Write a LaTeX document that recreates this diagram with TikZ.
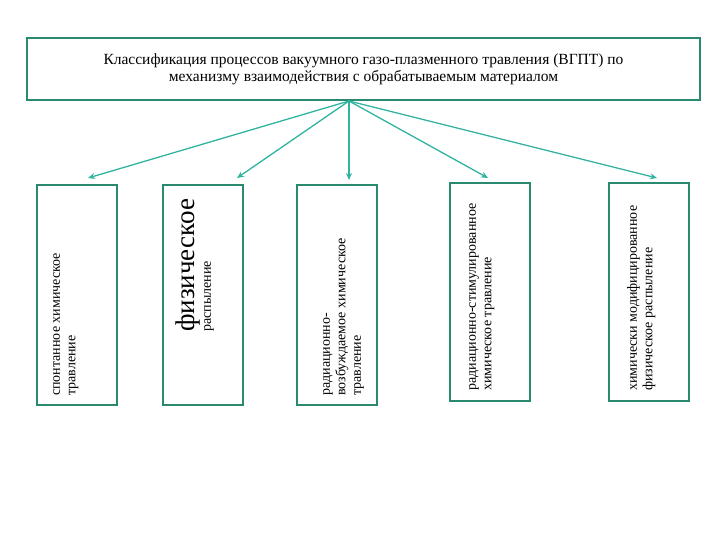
\documentclass[tikz,border=0pt]{standalone}
\usepackage{fontspec}
\setmainfont{Liberation Serif}
\usetikzlibrary{arrows.meta}
\begin{document}
\begin{tikzpicture}[x=1pt,y=-1pt,
  bx/.style={draw=boxc,line width=2pt},
  ar/.style={draw=arc,line width=1.3pt,-{Stealth[length=7pt,width=6pt]}},
  tx/.style={rotate=90,anchor=north west,align=left,inner sep=0pt,font=\fontsize{14}{15.5}\selectfont}]
\definecolor{boxc}{HTML}{2A8A70}
\definecolor{arc}{HTML}{30B4A0}
\useasboundingbox (0,0) rectangle (720,540);
\node[bx,minimum width=673,minimum height=62,inner sep=0pt,align=center,font=\fontsize{15.5}{17}\selectfont] (top) at (363.5,69)
 {Классификация процессов вакуумного газо-плазменного травления (ВГПТ) по\\механизму взаимодействия с обрабатываемым материалом};
\node[bx,minimum width=80,minimum height=220,inner sep=0pt] (b1) at (77,295) {};
\node[bx,minimum width=80,minimum height=220,inner sep=0pt] (b2) at (203,295) {};
\node[bx,minimum width=80,minimum height=220,inner sep=0pt] (b3) at (337,295) {};
\node[bx,minimum width=80,minimum height=218,inner sep=0pt] (b4) at (490,292) {};
\node[bx,minimum width=80,minimum height=218,inner sep=0pt] (b5) at (649,292) {};
\node[tx] (t1) at (53,396) {спонтанное химическое\\травление};
\node[rotate=90,anchor=north west,inner sep=0pt,font=\fontsize{27}{29}\selectfont] (t2a) at (176,332) {физическое};
\node[rotate=90,anchor=north west,inner sep=0pt,font=\fontsize{14}{15}\selectfont] (t2b) at (204,332) {распыление};
\node[tx] (t3) at (323,396) {радиационно-\\возбуждаемое химическое\\травление};
\node[tx] (t4) at (469,391) {радиационно-стимулированное\\химическое травление};
\node[tx] (t5) at (627,391) {химически модифицированное\\физическое распыление};
\coordinate (o) at (349,101);
\draw[ar] (o) -- (88,178);
\draw[ar] (o) -- (237,178);
\draw[ar] (o) -- (349,180);
\draw[ar] (o) -- (488,178);
\draw[ar] (o) -- (657,178);
\end{tikzpicture}
\end{document}
